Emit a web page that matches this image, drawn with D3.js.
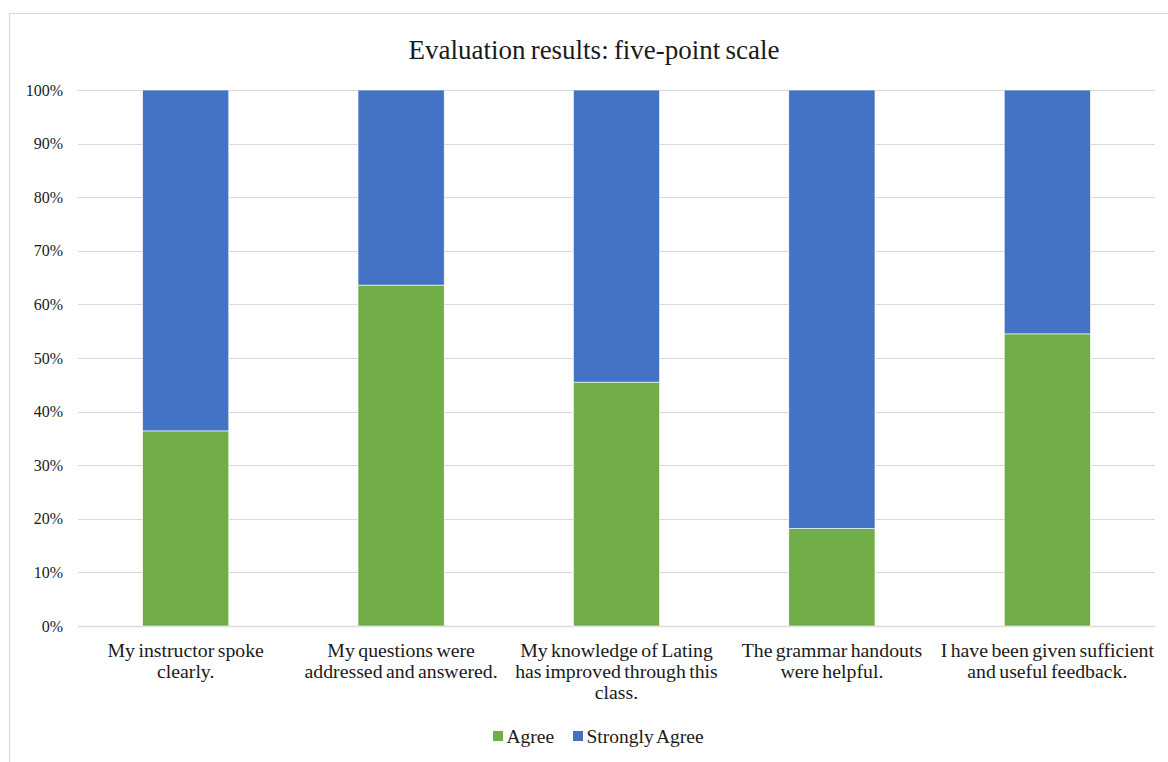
<!DOCTYPE html>
<html>
<head>
<meta charset="utf-8">
<script src="https://cdn.jsdelivr.net/npm/d3@7"></script>
<style>
  html, body { margin: 0; padding: 0; background: #fff; }
  svg { display: block; font-family: "Liberation Serif", "Times New Roman", serif; }
</style>
</head>
<body>
<svg id="chart" width="1168" height="762"></svg>
<script>
// Survey statements (x categories)
const categories = [
  "My instructor spoke clearly.",
  "My questions were addressed and answered.",
  "My knowledge of Lating has improved through this class.",
  "The grammar handouts were helpful.",
  "I have been given sufficient and useful feedback."
];
// Wrapped axis label lines for each statement
const categoryLines = [
  ["My instructor spoke", "clearly."],
  ["My questions were", "addressed and answered."],
  ["My knowledge of Lating", "has improved through this", "class."],
  ["The grammar handouts", "were helpful."],
  ["I have been given sufficient", "and useful feedback."]
];
// Share of responses per statement (percent)
const agree = [36.4, 63.6, 45.5, 18.2, 54.5];
const stronglyAgree = [63.6, 36.4, 54.5, 81.8, 45.5];
const seriesNames = ["Agree", "Strongly Agree"];
const seriesColors = ["#70AD47", "#4472C4"];
const yTicks = [0, 10, 20, 30, 40, 50, 60, 70, 80, 90, 100];
const title = "Evaluation results: five-point scale";

const svg = d3.select("#chart");
const W = 1168, H = 762;
const margin = { left: 78, right: 13, top: 90, bottom: 136 };
const plotW = W - margin.left - margin.right;
const plotH = H - margin.top - margin.bottom;
const textColor = "#1a1a1a";

// chart frame
svg.append("rect")
  .attr("x", 9.5).attr("y", 13.5)
  .attr("width", 1180).attr("height", 780)
  .attr("fill", "none").attr("stroke", "#d9d9d9").attr("stroke-width", 1.2);

svg.append("text")
  .attr("x", 594).attr("y", 59)
  .attr("text-anchor", "middle")
  .attr("font-size", 27)
  .attr("word-spacing", -1.5)
  .attr("fill", textColor)
  .text(title);

const g = svg.append("g").attr("transform", `translate(${margin.left},${margin.top})`);

const x = d3.scaleBand().domain(categories).range([0, plotW]).paddingInner(0.6).paddingOuter(0.3);
const y = d3.scaleLinear().domain([0, 100]).range([plotH, 0]);

// gridlines
g.append("g")
  .selectAll("line")
  .data(yTicks)
  .join("line")
  .attr("x1", 0).attr("x2", plotW)
  .attr("y1", d => Math.round(y(d)) + 0.5).attr("y2", d => Math.round(y(d)) + 0.5)
  .attr("stroke", "#d9d9d9").attr("stroke-width", d => d === 0 ? 1.6 : 1.2);

// y axis labels
const yAxis = d3.axisLeft(y).tickValues(yTicks).tickFormat(d => d + "%").tickSize(0).tickPadding(15);
const yg = g.append("g").call(yAxis);
yg.select(".domain").remove();
yg.selectAll("text").attr("font-size", 16).attr("fill", textColor)
  .attr("font-family", "Liberation Serif, Times New Roman, serif");

// stacked bars
const rows = categories.map((c, i) => ({ cat: c, Agree: agree[i], "Strongly Agree": stronglyAgree[i] }));
const stack = d3.stack().keys(seriesNames)(rows);
g.append("g")
  .selectAll("g")
  .data(stack)
  .join("g")
  .attr("fill", (d, i) => seriesColors[i])
  .selectAll("rect")
  .data(d => d)
  .join("rect")
  .attr("x", d => x(d.data.cat))
  .attr("width", x.bandwidth())
  .attr("y", d => y(d[1]))
  .attr("height", d => y(d[0]) - y(d[1]))
  .attr("stroke", "#ffffff").attr("stroke-width", 0.6);

// category labels
const xg = g.append("g").attr("transform", `translate(0,${plotH})`);
categories.forEach((c, i) => {
  const cx = x(c) + x.bandwidth() / 2;
  xg.append("text")
    .attr("text-anchor", "middle")
    .attr("font-size", 19.8)
    .attr("word-spacing", -1.5)
    .attr("fill", textColor)
    .selectAll("tspan")
    .data(categoryLines[i])
    .join("tspan")
    .attr("x", cx)
    .attr("y", (d, j) => 31 + j * 21.2)
    .text(d => d);
});

// legend
const legend = svg.append("g").attr("transform", "translate(0,736)");
const items = [{ name: seriesNames[0], color: seriesColors[0], x: 493 }, { name: seriesNames[1], color: seriesColors[1], x: 573 }];
items.forEach(it => {
  legend.append("rect").attr("x", it.x).attr("y", -5).attr("width", 10).attr("height", 10).attr("fill", it.color);
  legend.append("text").attr("x", it.x + 13.5).attr("y", 0).attr("dy", "0.35em")
    .attr("font-size", 19.5).attr("word-spacing", -1.5).attr("fill", textColor).text(it.name);
});
</script>
</body>
</html>
